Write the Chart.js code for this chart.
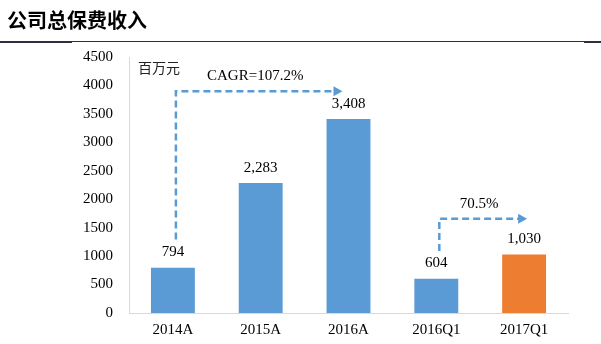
<!DOCTYPE html>
<html><head><meta charset="utf-8">
<script src="https://cdn.jsdelivr.net/npm/chart.js@4.4.1/dist/chart.umd.min.js"></script>
<style>html,body{margin:0;padding:0;background:#fff;}canvas{display:block;}</style>
</head><body>
<canvas id="c" width="601" height="344"></canvas>
<script>
const title = '公司总保费收入';
const unitLabel = '百万元';
const categories = ['2014A','2015A','2016A','2016Q1','2017Q1'];
const values = [794, 2283, 3408, 604, 1030];
const barColors = ['#5b9bd5','#5b9bd5','#5b9bd5','#5b9bd5','#ed7d31'];
const yTicks = {min:0, max:4500, step:500};
// growth arrows: from category index to category index, vertical start level, horizontal level (data units)
const arrowFrom = [0, 3];
const arrowTo = [2, 4];
const arrowBase = [1290, 1090];
const arrowTop = [3900, 1655];
const arrowText = ['CAGR=107.2%', '70.5%'];

const serif = '"Liberation Serif","Times New Roman",serif';
const cjk = '"Noto Sans CJK SC","Noto Sans CJK JP",sans-serif';
const blue = '#5b9bd5';

const overlay = {
  id:'overlay',
  afterDraw(chart){
    const ctx = chart.ctx, xs = chart.scales.x, ys = chart.scales.y;
    ctx.save();
    // title
    ctx.fillStyle = '#000';
    ctx.font = 'bold 20px ' + cjk;
    ctx.textAlign = 'left'; ctx.textBaseline = 'middle';
    ctx.fillText(title, 7, 20);
    // rule
    ctx.fillStyle = '#2e2e40';
    ctx.fillRect(0, 41, 601, 1);
    ctx.fillRect(0, 41, 72, 2);
    ctx.fillRect(584, 41, 17, 2);
    // unit
    ctx.fillStyle = '#222';
    ctx.font = '14px ' + cjk;
    ctx.textAlign = 'left';
    ctx.fillText(unitLabel, xs.left + 9, 68);
    // data labels
    ctx.fillStyle = '#000';
    ctx.font = '15px ' + serif;
    ctx.textAlign = 'center'; ctx.textBaseline = 'bottom';
    const meta = chart.getDatasetMeta(0);
    meta.data.forEach((bar, i) => {
      ctx.fillText(values[i].toLocaleString('en-US'), bar.x, bar.y - 8);
    });
    // arrows
    ctx.strokeStyle = blue; ctx.fillStyle = blue;
    ctx.lineWidth = 2.5;
    for (let k = 0; k < arrowFrom.length; k++) {
      const x0 = xs.getPixelForValue(arrowFrom[k]) + 3;
      const x1 = xs.getPixelForValue(arrowTo[k]) - (k === 0 ? 6 : -3);
      const yb = ys.getPixelForValue(arrowBase[k]);
      const yt = ys.getPixelForValue(arrowTop[k]);
      ctx.setLineDash([7,4]);
      ctx.beginPath(); ctx.moveTo(x0, yb); ctx.lineTo(x0, yt); ctx.lineTo(x1 - 8, yt); ctx.stroke();
      ctx.setLineDash([]);
      ctx.beginPath(); ctx.moveTo(x1, yt); ctx.lineTo(x1 - 9, yt - 5); ctx.lineTo(x1 - 9, yt + 5); ctx.closePath(); ctx.fill();
      ctx.save();
      ctx.fillStyle = '#000';
      ctx.font = '15px ' + serif;
      ctx.textAlign = 'center'; ctx.textBaseline = 'middle';
      ctx.fillText(arrowText[k], (x0 + x1) / 2 - 4, yt - 15);
      ctx.restore();
    }
    ctx.restore();
  }
};

new Chart(document.getElementById('c'), {
  type:'bar',
  data:{labels:categories, datasets:[{data:values, backgroundColor:barColors, barPercentage:0.5, categoryPercentage:1}]},
  options:{
    responsive:false, animation:false,
    layout:{padding:{left:0, top:57, right:33, bottom:0}},
    plugins:{legend:{display:false}, tooltip:{enabled:false}, title:{display:false}},
    scales:{
      x:{
        grid:{display:false, drawTicks:false},
        border:{color:'#d9d9d9', width:1},
        ticks:{color:'#000', font:{family:serif, size:15}, padding:8},
        afterFit(s){ s.height = 31; }
      },
      y:{
        min:yTicks.min, max:yTicks.max,
        grid:{display:false, drawTicks:false},
        border:{color:'#d9d9d9', width:1},
        ticks:{stepSize:yTicks.step, color:'#000', font:{family:serif, size:15}, padding:16,
               callback:(v) => String(v)},
        afterFit(s){ s.width = 129; }
      }
    }
  },
  plugins:[overlay]
});
</script>
</body></html>
